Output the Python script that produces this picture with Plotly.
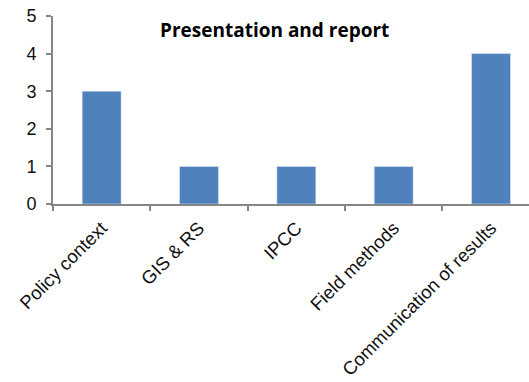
import plotly.graph_objects as go

categories = ["Policy context", "GIS & RS", "IPCC", "Field methods", "Communication of results"]
values = [3, 1, 1, 1, 4]
y_ticks = [0, 1, 2, 3, 4, 5]
title_text = "Presentation and report"

fig = go.Figure(go.Bar(x=categories, y=values, marker_color="#4F81BD", width=0.4))

axis_col = "#868686"
fig.update_layout(
    width=529, height=382,
    margin=dict(l=53, r=0, t=16, b=178),
    plot_bgcolor="white", paper_bgcolor="white",
    font=dict(family="Liberation Sans, Arial", size=17, color="#111111"),
    showlegend=False,
)
fig.update_xaxes(
    type="category", range=[-0.5, 4.39], tickangle=-45, automargin=False,
    tickfont=dict(size=18.5), ticklabelstandoff=4,
    showline=True, linecolor=axis_col, linewidth=2,
    ticks="outside", tickson="boundaries", ticklen=5, tickcolor=axis_col, tickwidth=1.5,
    showgrid=False, zeroline=False, fixedrange=True,
)
fig.update_yaxes(
    range=[0, 5], tickvals=y_ticks, tickfont=dict(size=18), ticklabelstandoff=6, automargin=False,
    showline=True, linecolor=axis_col, linewidth=2,
    ticks="outside", ticklen=5, tickcolor=axis_col, tickwidth=1.5,
    showgrid=False, zeroline=False, fixedrange=True,
)
fig.add_annotation(
    text="<b>" + title_text + "</b>", xref="paper", yref="paper",
    x=(274.5 - 53) / 476, y=(204 - 30) / 188, xanchor="center", yanchor="middle", showarrow=False,
    font=dict(family="Open Sans", size=19, color="black"),
)
fig.write_html("out.html")
